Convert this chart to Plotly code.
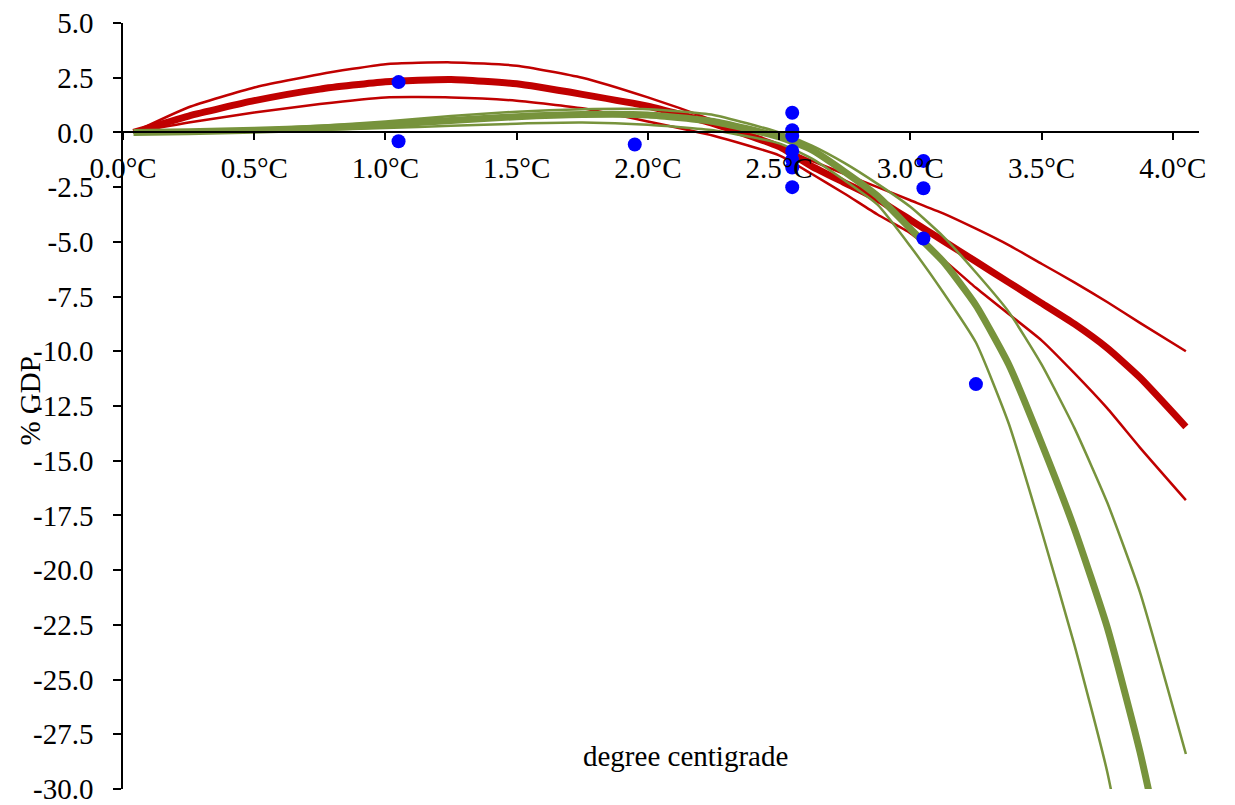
import plotly.graph_objects as go

# temperature grid for the fitted damage curves (degree C)
temp = [0.04, 0.25, 0.5, 0.75, 1.0, 1.25, 1.5, 1.75, 2.0, 2.25, 2.5,
        2.625, 2.75, 2.875, 3.0, 3.125, 3.25, 3.375, 3.5, 3.625, 3.75, 3.875, 4.05]

red_mid = [0.0, 0.75, 1.45, 1.98, 2.32, 2.42, 2.22, 1.74, 1.2, 0.4, -0.65,
           -1.55, -2.3, -3.05, -4.0, -4.95, -5.9, -6.85, -7.8, -8.75, -9.85, -11.2, -13.45]
red_hi = [0.0, 1.15, 2.05, 2.66, 3.12, 3.2, 3.05, 2.5, 1.6, 0.55, -0.65,
          -1.3, -1.9, -2.5, -3.1, -3.7, -4.4, -5.15, -6.0, -6.85, -7.75, -8.7, -10.0]
red_lo = [0.0, 0.45, 0.91, 1.3, 1.6, 1.6, 1.45, 1.1, 0.5, -0.15, -1.05,
          -1.9, -2.8, -3.75, -4.6, -5.8, -7.1, -8.3, -9.5, -11.0, -12.6, -14.4, -16.8]

green_mid = [0.0, 0.03, 0.1, 0.2, 0.35, 0.55, 0.72, 0.82, 0.8, 0.5, -0.2,
             -0.8, -1.8, -2.9, -4.4, -5.9, -7.9, -10.6, -14.2, -18.1, -22.6, -28.3, -38.0]
green_steep = [0.0, 0.02, 0.06, 0.12, 0.2, 0.3, 0.4, 0.45, 0.35, 0.1, -0.5,
               -1.2, -2.2, -3.3, -5.2, -7.3, -9.6, -13.3, -18.2, -23.4, -29.2, -37.0, -50.0]
green_flat = [0.0, 0.05, 0.15, 0.3, 0.5, 0.75, 0.95, 1.06, 1.06, 0.8, 0.0,
              -0.6, -1.4, -2.35, -3.4, -4.75, -6.4, -8.2, -10.6, -13.5, -16.9, -21.0, -28.4]

# study estimates
obs_temp = [1.05, 1.05, 1.95, 2.55, 2.55, 2.55, 2.55, 2.55, 2.55, 2.55, 3.05, 3.05, 3.05, 3.25]
obs_gdp = [2.3, -0.4, -0.55, 0.9, 0.1, -0.15, -0.85, -1.25, -1.6, -2.5, -1.3, -2.55, -4.85, -11.5]

y_ticks = [5.0 - 2.5 * i for i in range(15)]
x_ticks = [0.0, 0.5, 1.0, 1.5, 2.0, 2.5, 3.0, 3.5, 4.0]

RED = '#C00000'
GREEN = '#77933C'
FONT = 'Liberation Serif'
TXT = dict(family=FONT, size=29, color='black')

fig = go.Figure()
for ys, w in [(red_hi, 2.5), (red_lo, 2.5), (red_mid, 7)]:
    fig.add_trace(go.Scatter(x=temp, y=ys, mode='lines', line=dict(color=RED, width=w, shape='spline', smoothing=0.5)))
for ys, w in [(green_steep, 2.5), (green_flat, 2.5), (green_mid, 7)]:
    fig.add_trace(go.Scatter(x=temp, y=ys, mode='lines', line=dict(color=GREEN, width=w, shape='spline', smoothing=0.5)))
fig.add_trace(go.Scatter(x=obs_temp, y=obs_gdp, mode='markers', marker=dict(color='#0000FF', size=14), cliponaxis=False))

# page body adds an 8px offset, so margins are shifted to compensate
pw = 1227 - 115 - 36
fig.update_layout(
    width=1227, height=805,
    margin=dict(l=115, r=36, t=15, b=24, autoexpand=False),
    paper_bgcolor='white', plot_bgcolor='white',
    showlegend=False,
    font=TXT,
    xaxis=dict(
        range=[0, 4.1], anchor='free', position=30 / 35, automargin=False,
        tickvals=x_ticks, ticktext=[f'{v:.1f}°C' for v in x_ticks], tickfont=TXT,
        showline=True, linecolor='black', linewidth=1.5,
        ticks='outside', ticklen=7, tickwidth=1.5, tickcolor='black',
        ticklabelstandoff=3, ticklabeloverflow='allow',
        showgrid=False, zeroline=False,
    ),
    yaxis=dict(
        range=[-30, 5], automargin=False,
        tickvals=y_ticks, ticktext=[f'{v:.1f}' for v in y_ticks], tickfont=TXT,
        showline=True, linecolor='black', linewidth=1.5,
        ticks='outside', ticklen=8, tickwidth=1.5, tickcolor='black',
        ticklabelstandoff=14, ticklabeloverflow='allow',
        showgrid=False, zeroline=False,
    ),
    annotations=[
        dict(text='degree centigrade', x=(685 - 123) / pw, y=-28.5, xref='paper', yref='y',
             showarrow=False, font=TXT),
        dict(text='% GDP', x=(30 - 123) / pw, y=-12.3, xref='paper', yref='y', xanchor='center',
             showarrow=False, textangle=-90, font=TXT),
    ],
)

fig.write_html('out.html')
